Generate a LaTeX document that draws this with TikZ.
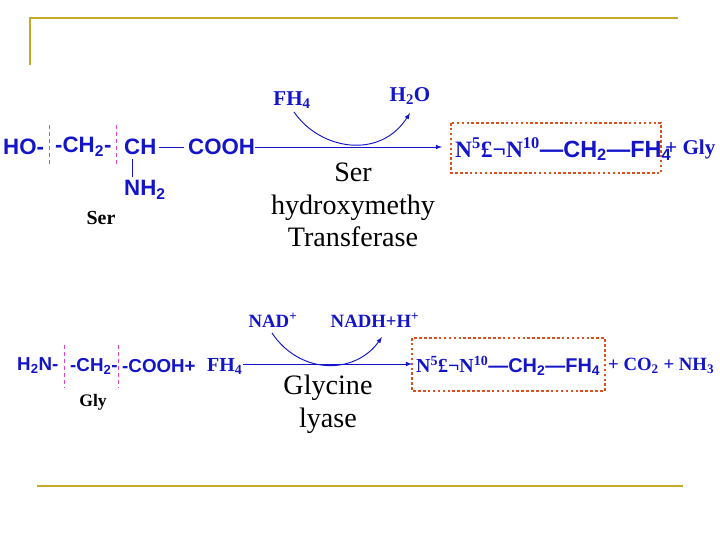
\documentclass[tikz,border=0pt]{standalone}
\usepackage{fontspec}
\setmainfont{Liberation Serif}
\setsansfont{Liberation Sans}
\usetikzlibrary{positioning}
\definecolor{chemblue}{RGB}{20,20,200}
\definecolor{rulegold}{RGB}{200,170,40}
\definecolor{cutpink}{RGB}{220,70,200}
\definecolor{boxred}{RGB}{220,80,30}
\newcommand{\lo}[1]{\textsubscript{#1}}
\newcommand{\hi}[1]{\textsuperscript{#1}}
\tikzset{
	chem/.style={font=\sffamily\bfseries\fontsize{19}{22}\selectfont, text=chemblue, inner sep=0pt, anchor=west},
	chemserif/.style={font=\bfseries\fontsize{20}{23}\selectfont, text=chemblue, inner sep=0pt, anchor=west},
	cofactor/.style={font=\bfseries\fontsize{18}{21}\selectfont, text=chemblue, inner sep=0pt},
	enzyme/.style={font=\fontsize{24}{28}\selectfont, align=center, inner sep=0pt},
	cut/.style={cutpink, dashed, thick},
	product box/.style={boxred, line width=2.2pt, dotted},
	react/.style={chemblue, thick, -latex},
}
\begin{document}
\begin{tikzpicture}[x=0.03cm, y=-0.03cm]
	\useasboundingbox (0,0) rectangle (720,540);
	% frame lines
	\draw[rulegold, line width=1.5pt] (30,65) -- (30,18) -- (678,18);
	\draw[rulegold, line width=1.5pt] (37,486) -- (683,486);
	% serine reaction
	\node[chem] (ho) at (3,147) {HO-};
	\node[chem] (chtwo) at (55,147) {-CH\lo{2}-};
	\node[chem] (ch) at (124,147) {CH};
	\node[chem] (cooh) at (188,147) {COOH};
	\draw[chemblue, thick] ([xshift=2]ch.east) -- ([xshift=-3]cooh.west);
	\node[chem] (nh) at (124,190) {NH\lo{2}};
	\draw[chemblue, thick] (132,159) -- (132,177);
	\draw[cut] (49,125) -- (49,167);
	\draw[cut] (116,125) -- (116,167);
	\node[font=\bfseries\fontsize{17}{20}\selectfont] (ser) at (101,218) {Ser};
	\coordinate (serend) at (442,147);
	\draw[react] (cooh.east) -- (serend);
	\node[cofactor] (fh) at (292,100) {FH\lo{4}};
	\node[cofactor] (water) at (410,96) {H\lo{2}O};
	\draw[react] (294,112) .. controls (320,150) and (380,160) .. (410,113);
	\node[enzyme] (shmt) at (353,205) {Ser\\hydroxymethy\\Transferase};
	\node[chemserif] (mthf) at (455,149) {N\hi{5}£¬N\hi{10}\textsf{---CH\lo{2}---FH\lo{4}}};
	\draw[product box] (451,123) rectangle (661,173);
	\node[chemserif, font=\bfseries\fontsize{18}{21}\selectfont] (gly) at (665,149) {+ Gly};
	% glycine reaction
	\node[chem, font=\sffamily\bfseries\fontsize{16}{19}\selectfont] (hn) at (17,366) {H\lo{2}N-};
	\node[chem, font=\sffamily\bfseries\fontsize{16}{19}\selectfont] (chb) at (70,366) {-CH\lo{2}-};
	\node[chem, font=\sffamily\bfseries\fontsize{16}{19}\selectfont] (coohb) at (122,366) {-COOH+};
	\node[chemserif, font=\bfseries\fontsize{17}{20}\selectfont] (fhb) at (207,366) {FH\lo{4}};
	\draw[cut, thin] (64,345) -- (64,388);
	\draw[cut, thin] (118,345) -- (118,388);
	\node[font=\bfseries\fontsize{15}{18}\selectfont] (glylab) at (93,402) {Gly};
	\coordinate (glyend) at (412,364);
	\draw[react] (243,364) -- (glyend);
	\node[cofactor, font=\bfseries\fontsize{16}{19}\selectfont] (nad) at (273,320) {NAD\hi{+}};
	\node[cofactor, font=\bfseries\fontsize{16}{19}\selectfont] (nadh) at (375,320) {NADH+H\hi{+}};
	\draw[react] (272,333) .. controls (300,375) and (355,375) .. (382,337);
	\node[enzyme] (gcl) at (328,404) {Glycine\\lyase};
	\node[chemserif, font=\bfseries\fontsize{17}{20}\selectfont] (mthfb) at (416,366) {N\hi{5}£¬N\hi{10}\textsf{---CH\lo{2}---FH\lo{4}}};
	\draw[product box] (412,338) rectangle (605,391);
	\node[chemserif, font=\bfseries\fontsize{16}{19}\selectfont] (prods) at (608,366) {+ CO\lo{2} + NH\lo{3}};
\end{tikzpicture}
\end{document}
